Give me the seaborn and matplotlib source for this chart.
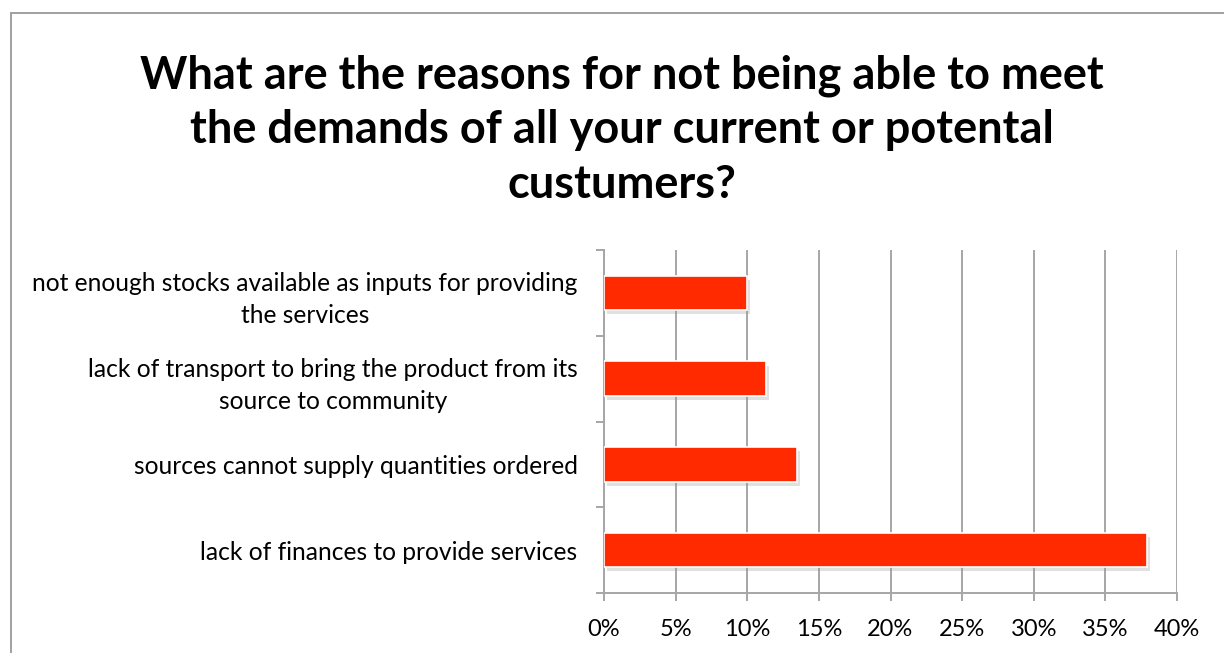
import matplotlib
matplotlib.use("Agg")
import matplotlib.pyplot as plt
import matplotlib.patheffects as pe
from matplotlib.patches import Rectangle
from matplotlib.ticker import FixedLocator, PercentFormatter
import seaborn as sns
import pandas as pd

# Survey answers, top to bottom as shown
reasons = [
    "not enough stocks available as inputs for providing\nthe services",
    "lack of transport to bring the product from its\nsource to community",
    "sources cannot supply quantities ordered",
    "lack of finances to provide services",
]
shares = [10.0, 11.3, 13.5, 37.9]
x_ticks = [0, 5, 10, 15, 20, 25, 30, 35, 40]

title = ("What are the reasons for not being able to meet\n"
         "the demands of all your current or potental\n"
         "custumers?")

sns.set_theme(style="white")
plt.rcParams["font.family"] = ["Lato", "DejaVu Sans"]
plt.rcParams["text.color"] = "black"

df = pd.DataFrame({"reason": reasons, "share": shares})

fig = plt.figure(figsize=(12.24, 6.53), dpi=100)
ax = fig.add_axes([604 / 1224, 1 - 593 / 653, (1177 - 604) / 1224, (593 - 250) / 653])

sns.barplot(data=df, x="share", y="reason", order=reasons, orient="h",
            color="#FF2A00", width=0.4, saturation=1, ax=ax,
            edgecolor="white", linewidth=1.2, zorder=3)

for bar in ax.patches:
    bar.set_path_effects([
        pe.SimplePatchShadow(offset=(2, -3), shadow_rgbFace="#999999", alpha=0.3),
        pe.Normal(),
    ])

grid_col = "#A6A6A6"
ax.set_xlim(0, 40)
ax.set_ylim(3.5, -0.5)
ax.xaxis.set_major_locator(FixedLocator(x_ticks))
ax.xaxis.set_major_formatter(PercentFormatter(decimals=0))
ax.grid(axis="x", color=grid_col, linewidth=1.4, zorder=0)
ax.grid(axis="y", visible=False)

# Category boundaries marked with outward ticks
ax.yaxis.set_minor_locator(FixedLocator([-0.5, 0.5, 1.5, 2.5, 3.5]))
ax.tick_params(axis="y", which="major", length=0, pad=19, labelsize=17.7,
               colors="black")
ax.tick_params(axis="y", which="minor", length=6, width=1.4, color=grid_col,
               left=True)
ax.tick_params(axis="x", which="major", length=6, width=1.4, color=grid_col,
               bottom=True, labelsize=17, pad=13, labelcolor="black")
for lbl in ax.get_yticklabels():
    lbl.set_multialignment("center")
    lbl.set_linespacing(1.5)

ax.set_xlabel("")
ax.set_ylabel("")
for side in ["top", "right"]:
    ax.spines[side].set_visible(False)
for side in ["left", "bottom"]:
    ax.spines[side].set_color(grid_col)
    ax.spines[side].set_linewidth(1.4)

fig.text(622 / 1224, 1 - 130 / 653, title, ha="center", va="center",
         fontsize=32.5, fontweight="bold", linespacing=1.37, color="black")

# Outer chart frame
fig.patches.append(Rectangle((11 / 1224, -0.1), 1.2, 1 - 13 / 653 + 0.1,
                             transform=fig.transFigure, fill=False,
                             edgecolor="#A0A0A0", linewidth=1.4))

fig.savefig("out.png", dpi=100)
